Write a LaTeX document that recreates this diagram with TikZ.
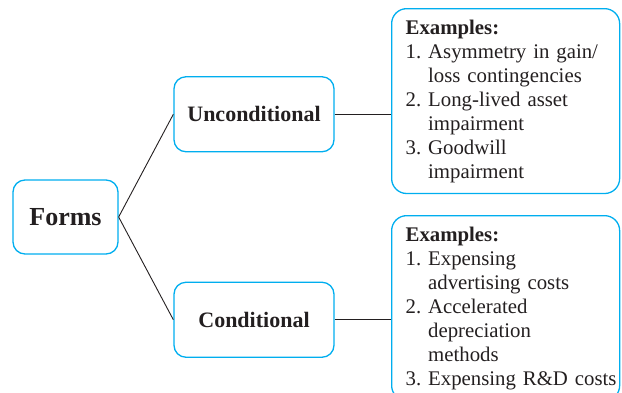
\documentclass[tikz,border=0pt]{standalone}
\usepackage{fontspec}
\setmainfont{Liberation Serif}
\usepackage{tikz}
\usetikzlibrary{trees,calc}
\definecolor{boxblue}{RGB}{0,174,239}
\definecolor{ink}{RGB}{35,31,32}

\begin{document}
\begin{tikzpicture}[x=1pt,y=1pt]
\tikzset{
	form node/.style = {draw=boxblue, line width=1.3pt, rounded corners=12pt, text=ink, font=\bfseries\fontsize{22}{26}\selectfont},
	example node/.style = {draw=boxblue, line width=1.3pt, rounded corners=15pt, text=ink, anchor=north west, align=left, text width=200pt, inner xsep=14pt, inner ysep=11pt, font=\fontsize{20.8}{24}\selectfont},
	link/.style = {draw=ink, line width=0.9pt},
}
\useasboundingbox (0,0) rectangle (622,-392);
\clip (0,0) rectangle (622,-392);
\node(0)[form node, minimum width=105pt, minimum height=74pt, font=\bfseries\fontsize{26}{30}\selectfont] at (65.5,-217){Forms}
[grow'=east, level distance=188.5pt, sibling distance=205.5pt,
 edge from parent/.style={link},
 edge from parent path={(\tikzparentnode.east) -- (\tikzchildnode.west)}]
child{node[form node, minimum width=160pt, minimum height=75pt]{Unconditional}}
child{node[form node, minimum width=160pt, minimum height=75pt]{Conditional}}
;
\node(e1)[example node, minimum height=184pt] at (391,-8){\textbf{Examples:}\\
\mbox{1.~Asymmetry in gain/}\\
\phantom{1.~}loss contingencies\\
2.~Long-lived asset\\
\phantom{2.~}impairment\\
3.~Goodwill\\
\phantom{3.~}impairment};
\node(e2)[example node] at (391,-215){\textbf{Examples:}\\
1.~Expensing\\
\phantom{1.~}advertising costs\\
2.~Accelerated\\
\phantom{2.~}depreciation\\
\phantom{2.~}methods\\
\mbox{3.~Expensing R\&D costs}};
\draw[link] (0-1.east) -- (0-1.east -| e1.west);
\draw[link] (0-2.east) -- (0-2.east -| e2.west);
\end{tikzpicture}
\end{document}
